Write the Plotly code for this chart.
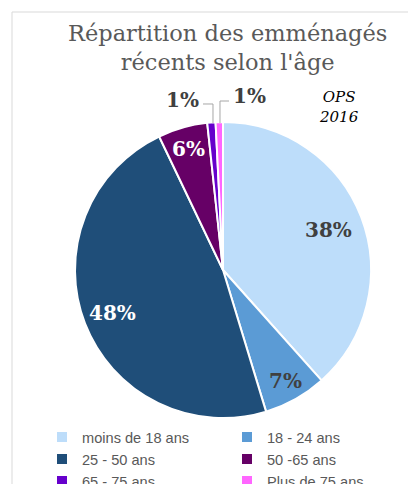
import math
import plotly.graph_objects as go

categories = ["moins de 18 ans", "18 - 24 ans", "25 - 50 ans", "50 -65 ans", "65 - 75 ans", "Plus de 75 ans"]
values = [38.4, 6.9, 47.6, 5.4, 0.9, 0.8]
pct_labels = ["38%", "7%", "48%", "6%", "1%", "1%"]
colors = ["#BDDDFA", "#5B9BD5", "#1F4E79", "#660066", "#6600CC", "#FF66FF"]
text_colors = ["#404040", "#404040", "#FFFFFF", "#FFFFFF", "#404040", "#404040"]

W, H = 416, 484
OFF = 8                             # page body margin
CX, CY, R = 223, 270, 148           # pie centre / radius (screen pixels)
label_r = [0.76, 0.86, 0.80, 0.85]  # radial position of inside labels (fraction of R)


def px(x):
    return (x - OFF) / W


def py(y):
    return (H - (y - OFF)) / H


fig = go.Figure()
fig.add_trace(go.Pie(
    labels=categories,
    values=values,
    textinfo="none",
    sort=False,
    direction="clockwise",
    rotation=0,
    marker=dict(colors=colors, line=dict(color="#FFFFFF", width=2)),
    domain=dict(x=[px(CX - R), px(CX + R)], y=[py(CY + R), py(CY - R)]),
    hoverinfo="label+percent",
))

annotations = [
    dict(text="Répartition des emménagés<br>récents selon l'âge", xref="paper", yref="paper",
         x=px(227), y=py(18), xanchor="center", yanchor="top", showarrow=False,
         font=dict(family="DejaVu Serif", size=22.5, color="#595959")),
    dict(text="<i>OPS<br>2016</i>", xref="paper", yref="paper",
         x=px(339), y=py(86), xanchor="center", yanchor="top", showarrow=False,
         font=dict(family="DejaVu Serif", size=15, color="#000000")),
]

# inside labels placed along the mid-angle of each slice
total = sum(values)
cum = 0.0
for i, v in enumerate(values):
    mid = (cum + v / 2) / total * 2 * math.pi
    cum += v
    if i < len(label_r):
        lx = CX + label_r[i] * R * math.sin(mid)
        ly = CY - label_r[i] * R * math.cos(mid)
        annotations.append(dict(text="<b>%s</b>" % pct_labels[i], xref="paper", yref="paper",
                                x=px(lx), y=py(ly), xanchor="center", yanchor="middle",
                                showarrow=False,
                                font=dict(family="DejaVu Serif", size=20, color=text_colors[i])))

# small slices: labels outside with elbow leader lines
annotations.append(dict(text="<b>%s</b>" % pct_labels[4], xref="paper", yref="paper",
                        x=px(201), y=py(100), xanchor="right", yanchor="middle", showarrow=False,
                        font=dict(family="DejaVu Serif", size=20, color=text_colors[4])))
annotations.append(dict(text="<b>%s</b>" % pct_labels[5], xref="paper", yref="paper",
                        x=px(231), y=py(96), xanchor="left", yanchor="middle", showarrow=False,
                        font=dict(family="DejaVu Serif", size=20, color=text_colors[5])))

shapes = [
    dict(type="rect", xref="paper", yref="paper",
         x0=px(12), x1=px(415), y0=-0.2, y1=py(12),
         line=dict(color="#D9D9D9", width=1), fillcolor="rgba(0,0,0,0)", layer="below"),
    dict(type="path", xref="paper", yref="paper",
         path="M %f,%f L %f,%f L %f,%f" % (px(203), py(104), px(213), py(104), px(213), py(123)),
         line=dict(color="#A6A6A6", width=1)),
    dict(type="path", xref="paper", yref="paper",
         path="M %f,%f L %f,%f L %f,%f" % (px(229), py(101), px(220), py(101), px(220), py(123)),
         line=dict(color="#A6A6A6", width=1)),
]

fig.update_layout(
    width=W, height=H,
    margin=dict(l=0, r=0, t=0, b=0, autoexpand=False),
    paper_bgcolor="#FFFFFF",
    plot_bgcolor="#FFFFFF",
    showlegend=True,
    legend=dict(
        orientation="h",
        xref="container", yref="container",
        x=34 / W, xanchor="left",
        y=(H - 413) / H, yanchor="top",
        entrywidth=140, entrywidthmode="pixels",
        font=dict(family="Liberation Sans", size=14.6, color="#595959"),
        traceorder="normal",
    ),
    shapes=shapes,
    annotations=annotations,
)

fig.write_html("out.html")
